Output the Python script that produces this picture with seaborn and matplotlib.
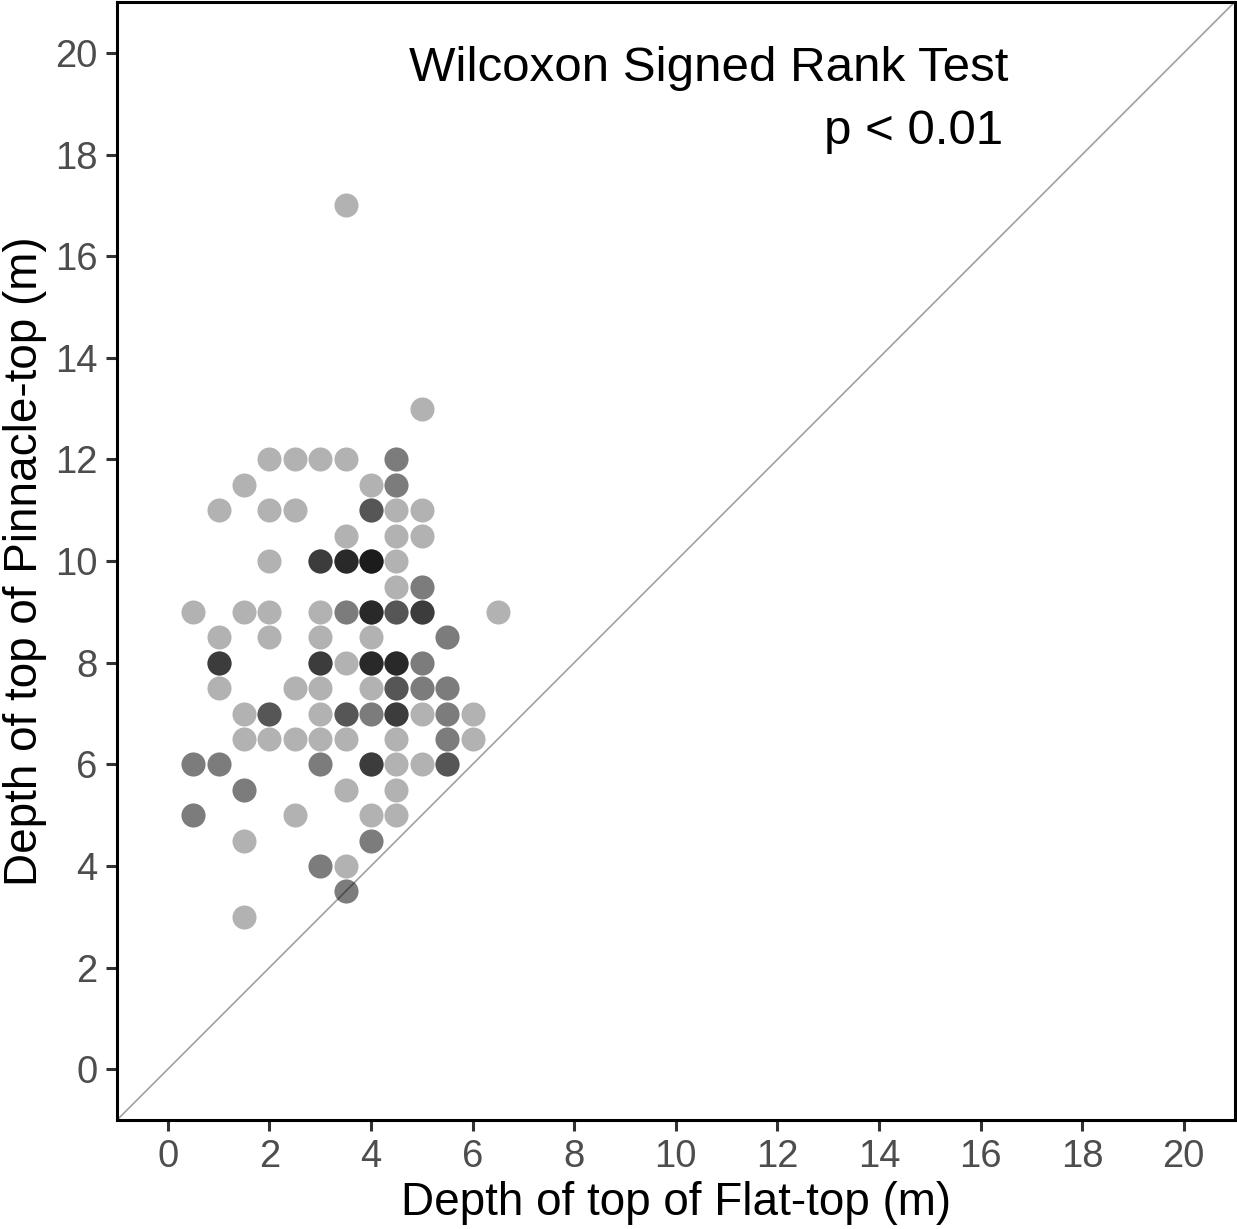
import numpy as np
import pandas as pd
import matplotlib
matplotlib.use("Agg")
import matplotlib.pyplot as plt
import seaborn as sns

# positions on the 0.5 m grid and how many reefs sit on each
flat_top = [3.5, 5,
            2, 2.5, 3, 3.5, 4.5,
            1.5, 4, 4.5,
            1, 2, 2.5, 4, 4.5, 5,
            3.5, 4.5, 5,
            2, 3, 3.5, 4, 4.5,
            4.5, 5,
            0.5, 1.5, 2, 3, 3.5, 4, 4.5, 5, 6.5,
            1, 2, 3, 4, 5.5,
            1, 3, 3.5, 4, 4.5, 5,
            1, 2.5, 3, 4, 4.5, 5, 5.5,
            1.5, 2, 3, 3.5, 4, 4.5, 5, 5.5, 6,
            1.5, 2, 2.5, 3, 3.5, 4.5, 5.5, 6,
            0.5, 1, 3, 4, 4.5, 5, 5.5,
            1.5, 3.5, 4.5,
            0.5, 2.5, 4, 4.5,
            1.5, 4,
            3, 3.5,
            3.5,
            1.5]
pinnacle_top = [17, 13,
                12, 12, 12, 12, 12,
                11.5, 11.5, 11.5,
                11, 11, 11, 11, 11, 11,
                10.5, 10.5, 10.5,
                10, 10, 10, 10, 10,
                9.5, 9.5,
                9, 9, 9, 9, 9, 9, 9, 9, 9,
                8.5, 8.5, 8.5, 8.5, 8.5,
                8, 8, 8, 8, 8, 8,
                7.5, 7.5, 7.5, 7.5, 7.5, 7.5, 7.5,
                7, 7, 7, 7, 7, 7, 7, 7, 7,
                6.5, 6.5, 6.5, 6.5, 6.5, 6.5, 6.5, 6.5,
                6, 6, 6, 6, 6, 6, 6,
                5.5, 5.5, 5.5,
                5, 5, 5, 5,
                4.5, 4.5,
                4, 4,
                3.5,
                3]
n_reefs = [1, 1,
           1, 1, 1, 1, 2,
           1, 1, 2,
           1, 1, 1, 3, 1, 1,
           1, 1, 1,
           1, 4, 5, 6, 1,
           1, 2,
           1, 1, 1, 1, 2, 5, 3, 4, 1,
           1, 1, 1, 1, 2,
           4, 4, 1, 5, 5, 2,
           1, 1, 1, 1, 3, 2, 2,
           1, 3, 1, 3, 2, 4, 1, 2, 1,
           1, 1, 1, 1, 1, 1, 2, 1,
           2, 2, 2, 4, 1, 1, 3,
           2, 1, 1,
           2, 1, 1, 1,
           1, 2,
           2, 1,
           2,
           1]

df = pd.DataFrame({
    "flat": np.repeat(flat_top, n_reefs),
    "pinnacle": np.repeat(pinnacle_top, n_reefs),
})

sns.set_theme(style="white")
plt.rcParams["font.family"] = ["Liberation Sans", "DejaVu Sans"]

fig = plt.figure(figsize=(12.37, 12.29), dpi=100)
ax = fig.add_axes([0.0946, 0.0887, 0.9034, 0.9095])

ax.axline((0, 0), slope=1, color="#a0a0a0", linewidth=1.2, zorder=1)
sns.scatterplot(data=df, x="flat", y="pinnacle", color="black", alpha=0.3,
                s=300, linewidth=0, ax=ax, zorder=2)

ax.set_xlim(-1, 21)
ax.set_ylim(-1, 21)
ax.set_xticks(range(0, 21, 2))
ax.set_yticks(range(0, 21, 2))

for sp in ax.spines.values():
    sp.set_visible(True)
    sp.set_color("black")
    sp.set_linewidth(2.2)

ax.tick_params(axis="both", which="major", direction="out", length=8, width=2.2,
               color="#333333", labelcolor="#4d4d4d", labelsize=27.5, pad=6,
               bottom=True, left=True)

ax.set_xlabel("Depth of top of Flat-top (m)", fontsize=33, color="black", labelpad=4)
ax.set_ylabel("Depth of top of Pinnacle-top (m)", fontsize=33, color="black", labelpad=6)

ax.text(16.55, 19.7, "Wilcoxon Signed Rank Test", ha="right", va="center",
        fontsize=35.5, color="black")
ax.text(16.45, 18.45, "p < 0.01", ha="right", va="center",
        fontsize=35.5, color="black")

fig.savefig("out.png", dpi=100)
